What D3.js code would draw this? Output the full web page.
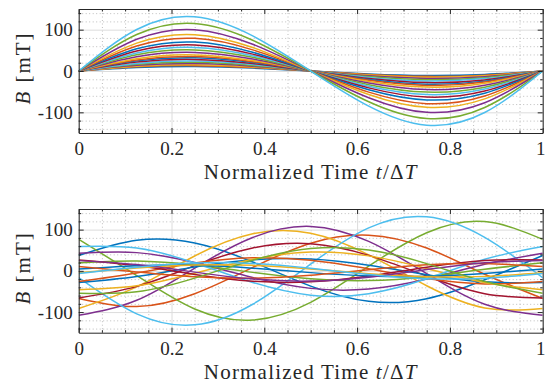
<!DOCTYPE html>
<html>
<head>
<meta charset="utf-8">
<script src="https://cdn.jsdelivr.net/npm/d3@7"></script>
<style>
  body { margin: 0; background: #fff; }
  text { font-family: "Liberation Serif", "DejaVu Serif", serif; fill: #262626; }
</style>
</head>
<body>
<svg id="chart" width="545" height="386"></svg>
<script>
const timeSamples = [0, 0.125, 0.25, 0.375, 0.5, 0.625, 0.75, 0.875, 1];

const xTicks = [0, 0.2, 0.4, 0.6, 0.8, 1];
const yTicks = [-100, 0, 100];

// matlab default line colours
const lineColors = ['#0072BD', '#D95319', '#EDB120', '#7E2F8E', '#77AC30', '#4DBEEE', '#A2142F'];

// top panel: in-phase waveforms, rising amplitude
const topSeries = [
    [0, 8.4, 11, 7.1, 0, -7.1, -11, -8.4, 0],
    [0, 10, 13, 8.4, 0, -8.4, -13, -10, 0],
    [0, 11.5, 15, 9.7, 0, -9.7, -15, -11.5, 0],
    [0, 13.8, 18, 11.6, 0, -11.6, -18, -13.8, 0],
    [0, 16.1, 21, 13.6, 0, -13.6, -21, -16.1, 0],
    [0, 18.4, 24, 15.5, 0, -15.5, -24, -18.4, 0],
    [0, 21.5, 28, 18.1, 0, -18.1, -28, -21.5, 0],
    [0, 24.5, 32, 20.7, 0, -20.7, -32, -24.5, 0],
    [0, 26.8, 35, 22.6, 0, -22.6, -35, -26.8, 0],
    [0, 29.9, 39, 25.2, 0, -25.2, -39, -29.9, 0],
    [0, 34.5, 45, 29.1, 0, -29.1, -45, -34.5, 0],
    [0, 39.1, 51, 33, 0, -33, -51, -39.1, 0],
    [0, 43.7, 57, 36.9, 0, -36.9, -57, -43.7, 0],
    [0, 48.3, 63, 40.8, 0, -40.8, -63, -48.3, 0],
    [0, 53.7, 70, 45.3, 0, -45.3, -70, -53.7, 0],
    [0, 60.6, 79, 51.1, 0, -51.1, -79, -60.6, 0],
    [0, 67.5, 88, 56.9, 0, -56.9, -88, -67.5, 0],
    [0, 76.7, 100, 64.7, 0, -64.7, -100, -76.7, 0],
    [0, 88.2, 115, 74.4, 0, -74.4, -115, -88.2, 0],
    [0, 100.5, 131, 84.8, 0, -84.8, -131, -100.5, 0]
];

// bottom panel: mixed phases
const bottomSeries = [
    [37.1, 74.0, 67.5, 21.5, -37.1, -74.0, -67.5, -21.5, 37.1],
    [-67.1, -86.6, -55.4, 8.3, 67.1, 86.6, 55.4, -8.3, -67.1],
    [-91.1, -38.9, 36.1, 89.9, 91.1, 38.9, -36.1, -89.9, -91.1],
    [-107.8, -71.4, 6.8, 81.0, 107.8, 71.4, -6.8, -81.0, -107.8],
    [76.4, -11.4, -92.5, -119.4, -76.4, 11.4, 92.5, 119.4, 76.4],
    [-16.5, -104.3, -131.0, -81.0, 16.5, 104.3, 131.0, 81.0, -16.5],
    [-65.8, -37.6, 12.6, 55.4, 65.8, 37.6, -12.6, -55.4, -65.8],
    [-28.5, -13.6, 9.3, 26.7, 28.5, 13.6, -9.3, -26.7, -28.5],
    [-25.9, -5.0, 18.8, 31.6, 25.9, 5.0, -18.8, -31.6, -25.9],
    [-45.6, -36.3, -5.8, 28.1, 45.6, 36.3, 5.8, -28.1, -45.6],
    [42.5, 44.2, 20.0, -15.9, -42.5, -44.2, -20.0, 15.9, 42.5],
    [19.4, 23.7, 14.1, -3.7, -19.4, -23.7, -14.1, 3.7, 19.4],
    [59.0, 55.3, 19.2, -28.1, -59.0, -55.3, -19.2, 28.1, 59.0],
    [26.6, 12.7, -8.7, -25.0, -26.6, -12.7, 8.7, 25.0, 26.6],
    [4.3, 12.4, 13.3, 6.4, -4.3, -12.4, -13.3, -6.4, 4.3],
    [10.6, -2.8, -14.6, -17.8, -10.6, 2.8, 14.6, 17.8, 10.6],
    [-4.6, 6.9, 14.3, 13.4, 4.6, -6.9, -14.3, -13.4, -4.6],
    [24.8, 15.3, -3.1, -19.7, -24.8, -15.3, 3.1, 19.7, 24.8],
    [-54.2, -50.8, -17.6, 25.9, 54.2, 50.8, 17.6, -25.9, -54.2],
    [-6.2, 9.0, 19.0, 17.8, 6.2, -9.0, -19.0, -17.8, -6.2]
];

const svg = d3.select('#chart');
const left = 78.7, right = 542.7;
const axisColor = '#262626';

const xMinor = d3.range(0, 1.0001, 0.05).filter(v => Math.abs(v / 0.2 - Math.round(v / 0.2)) > 1e-6);
const yMinor = d3.range(-140, 141, 20).filter(v => v % 100 !== 0);

function drawPanel(series, top, bottom, id) {
    const x = d3.scaleLinear().domain([0, 1]).range([left, right]);
    const y = d3.scaleLinear().domain([-150, 150]).range([bottom, top]);
    const h = bottom - top, w = right - left;
    const g = svg.append('g');

    // grid: minor dotted, then major solid
    const grid = g.append('g');
    grid.append('g').attr('transform', `translate(0,${bottom})`)
        .call(d3.axisBottom(x).tickValues(xMinor).tickSize(-h).tickFormat(''))
        .call(a => a.selectAll('line').attr('stroke', '#bdbdbd').attr('stroke-dasharray', '1,2.5'));
    grid.append('g').attr('transform', `translate(${left},0)`)
        .call(d3.axisLeft(y).tickValues(yMinor).tickSize(-w).tickFormat(''))
        .call(a => a.selectAll('line').attr('stroke', '#bdbdbd').attr('stroke-dasharray', '1,2.5'));
    grid.append('g').attr('transform', `translate(0,${bottom})`)
        .call(d3.axisBottom(x).tickValues(xTicks).tickSize(-h).tickFormat(''))
        .call(a => a.selectAll('line').attr('stroke', '#dcdcdc'));
    grid.append('g').attr('transform', `translate(${left},0)`)
        .call(d3.axisLeft(y).tickValues(yTicks).tickSize(-w).tickFormat(''))
        .call(a => a.selectAll('line').attr('stroke', '#dcdcdc'));
    grid.selectAll('.domain').remove();

    // curves
    svg.append('clipPath').attr('id', id)
        .append('rect').attr('x', left).attr('y', top).attr('width', w).attr('height', h);

    const line = d3.line()
        .x((d, i) => x(timeSamples[i]))
        .y(d => y(d))
        .curve(d3.curveNatural);

    g.append('g').attr('clip-path', `url(#${id})`)
        .selectAll('path')
        .data(series)
        .enter()
        .append('path')
        .attr('d', line)
        .attr('fill', 'none')
        .attr('stroke', (d, i) => lineColors[i % lineColors.length])
        .attr('stroke-width', 1.5);

    // box with inward ticks on every side
    const axes = [
        { make: () => d3.axisBottom(x), t: `translate(0,${bottom})`, vals: xTicks, minor: xMinor, lab: true, pad: 9 },
        { make: () => d3.axisTop(x), t: `translate(0,${top})`, vals: xTicks, minor: xMinor, lab: false, pad: 3 },
        { make: () => d3.axisLeft(y), t: `translate(${left},0)`, vals: yTicks, minor: yMinor, lab: true, pad: 6 },
        { make: () => d3.axisRight(y), t: `translate(${right},0)`, vals: yTicks, minor: yMinor, lab: false, pad: 3 }
    ];
    axes.forEach(a => {
        const mn = g.append('g').attr('transform', a.t)
            .call(a.make().tickValues(a.minor).tickSize(-2.5).tickSizeOuter(0).tickFormat(''));
        mn.select('.domain').remove();
        mn.selectAll('line').attr('stroke', axisColor);

        const major = g.append('g').attr('transform', a.t)
            .call(a.make().tickValues(a.vals).tickSize(-5).tickSizeOuter(0)
                .tickPadding(a.pad)
                .tickFormat(a.lab ? (d => String(d)) : ''));
        major.select('.domain').attr('stroke', axisColor);
        major.selectAll('line').attr('stroke', axisColor);
        major.selectAll('text').attr('font-size', 19).attr('font-family', null).attr('fill', axisColor);
    });
    // last x label sits against the window edge
    g.selectAll('.tick text').filter(d => d === 1).attr('dx', -2.5);

    // axis titles
    const xl = g.append('text')
        .attr('x', (left + right) / 2)
        .attr('y', bottom + 46)
        .attr('text-anchor', 'middle')
        .attr('font-size', 21)
        .attr('letter-spacing', 1.2);
    xl.append('tspan').text('Normalized Time ');
    xl.append('tspan').attr('font-style', 'italic').text('t');
    xl.append('tspan').text('/Δ');
    xl.append('tspan').attr('font-style', 'italic').text('T');

    const yl = g.append('text')
        .attr('transform', `translate(30,${(top + bottom) / 2 - 3}) rotate(-90)`)
        .attr('text-anchor', 'middle')
        .attr('font-size', 21)
        .attr('letter-spacing', 2);
    yl.append('tspan').attr('font-style', 'italic').text('B');
    yl.append('tspan').text(' [mT]');
}

drawPanel(topSeries, 9, 133, 'clipTop');
drawPanel(bottomSeries, 209, 332.7, 'clipBottom');
</script>
</body>
</html>
